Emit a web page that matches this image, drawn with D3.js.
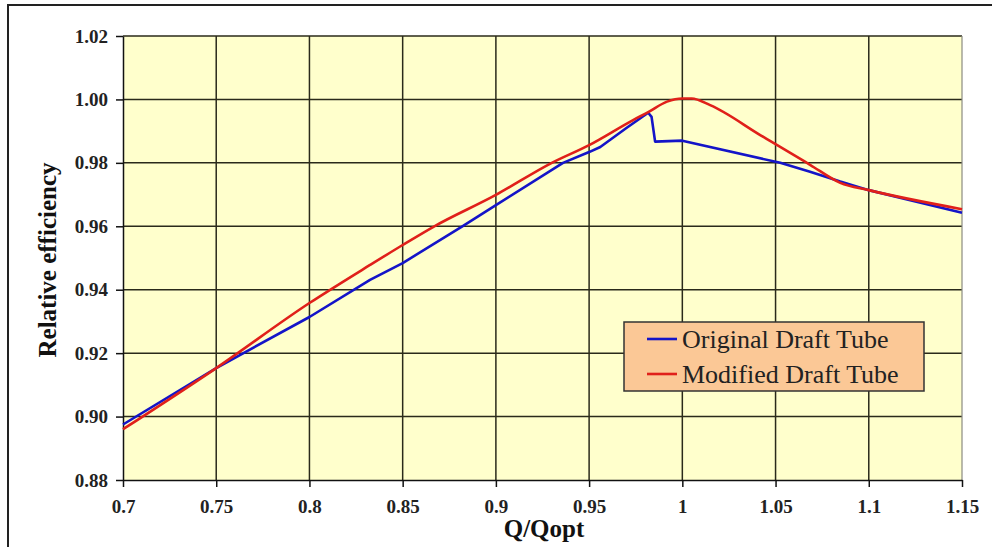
<!DOCTYPE html>
<html>
<head>
<meta charset="utf-8">
<script src="https://cdn.jsdelivr.net/npm/d3@7"></script>
<style>
  body { margin: 0; background: #fff; }
  svg { display: block; }
  text { font-family: "Liberation Serif", "Times New Roman", serif; }
</style>
</head>
<body>
<div id="chart"></div>
<script>
// data
var xTicks = [0.7, 0.75, 0.8, 0.85, 0.9, 0.95, 1.0, 1.05, 1.1, 1.15];
var xTickLabels = ["0.7", "0.75", "0.8", "0.85", "0.9", "0.95", "1", "1.05", "1.1", "1.15"];
var yTicks = [0.88, 0.90, 0.92, 0.94, 0.96, 0.98, 1.00, 1.02];
var yTickLabels = ["0.88", "0.90", "0.92", "0.94", "0.96", "0.98", "1.00", "1.02"];
var seriesNames = ["Original Draft Tube", "Modified Draft Tube"];

var origQ   = [0.7, 0.75, 0.8, 0.8325, 0.85, 0.882, 0.9, 0.936, 0.95, 0.956, 0.97, 0.9817, 0.9835, 0.9854, 1.0, 1.0525, 1.0685, 1.0847, 1.1, 1.15];
var origEff = [0.8975, 0.9153, 0.9314, 0.9431, 0.9484, 0.960, 0.9667, 0.980, 0.9834, 0.985, 0.991, 0.9958, 0.9945, 0.9867, 0.987, 0.980, 0.9772, 0.9741, 0.9714, 0.9643];

var modQ   = [0.7, 0.75, 0.8, 0.8325, 0.85, 0.867, 0.9, 0.930, 0.95, 0.9736, 0.9817, 0.9918, 1.0, 1.005, 1.0149, 1.042, 1.05, 1.0685, 1.0847, 1.1, 1.15];
var modEff = [0.8960, 0.9153, 0.9358, 0.9478, 0.9541, 0.960, 0.9699, 0.980, 0.9856, 0.9935, 0.9960, 0.9993, 1.0003, 1.0003, 0.9982, 0.9887, 0.9859, 0.9794, 0.9737, 0.9714, 0.9654];

var colors = ["#1414c8", "#e0201a"];

var width = 992, height = 547;
var plotL = 123, plotR = 962, plotT = 36, plotB = 480;

var svg = d3.select("#chart").append("svg")
    .attr("width", width)
    .attr("height", height);

// outer frame
svg.append("rect")
    .attr("x", 8).attr("y", 5)
    .attr("width", 1000).attr("height", 600)
    .attr("fill", "#fff")
    .attr("stroke", "#222").attr("stroke-width", 2);

var x = d3.scaleLinear().domain([0.7, 1.15]).range([plotL, plotR]);
var y = d3.scaleLinear().domain([0.88, 1.02]).range([plotB, plotT]);

// plot background
svg.append("rect")
    .attr("x", plotL).attr("y", plotT)
    .attr("width", plotR - plotL).attr("height", plotB - plotT)
    .attr("fill", "#ffffcc");

// grid
svg.append("g").selectAll("line").data(xTicks.slice(1, -1)).enter().append("line")
    .attr("x1", function(d){ return x(d); }).attr("x2", function(d){ return x(d); })
    .attr("y1", plotT).attr("y2", plotB)
    .attr("stroke", "#2a2a1a").attr("stroke-width", 1.5);
svg.append("g").selectAll("line").data(yTicks.slice(1)).enter().append("line")
    .attr("x1", plotL).attr("x2", plotR)
    .attr("y1", function(d){ return y(d); }).attr("y2", function(d){ return y(d); })
    .attr("stroke", "#2a2a1a").attr("stroke-width", 1.5);
// right edge
svg.append("line")
    .attr("x1", plotR).attr("x2", plotR).attr("y1", plotT).attr("y2", plotB)
    .attr("stroke", "#8a8a80").attr("stroke-width", 1.2);

// axes
var xAxis = d3.axisBottom(x).tickValues(xTicks)
    .tickFormat(function(d, i){ return xTickLabels[i]; })
    .tickSizeInner(7).tickSizeOuter(0).tickPadding(13);
var gx = svg.append("g").attr("transform", "translate(0," + plotB + ")").call(xAxis);
gx.selectAll("text").attr("font-size", 19).attr("font-weight", "bold").attr("fill", "#222")
    .style("font-family", "'Liberation Serif', serif");

var yAxis = d3.axisLeft(y).tickValues(yTicks)
    .tickFormat(function(d, i){ return yTickLabels[i]; })
    .tickSizeInner(7).tickSizeOuter(0).tickPadding(8);
var gy = svg.append("g").attr("transform", "translate(" + plotL + ",0)").call(yAxis);
gy.selectAll("text").attr("font-size", 19).attr("font-weight", "bold").attr("fill", "#222")
    .style("font-family", "'Liberation Serif', serif");

svg.selectAll(".domain").attr("stroke", "#111").attr("stroke-width", 1.5);
svg.selectAll(".tick line").attr("stroke", "#111").attr("stroke-width", 1.5);

// lines
var lineSharp = d3.line()
    .x(function(d){ return x(d[0]); })
    .y(function(d){ return y(d[1]); });
var lineSmooth = d3.line()
    .curve(d3.curveMonotoneX)
    .x(function(d){ return x(d[0]); })
    .y(function(d){ return y(d[1]); });

var series = [d3.zip(origQ, origEff), d3.zip(modQ, modEff)];
svg.append("g").selectAll("path").data(series).enter().append("path")
    .attr("d", function(d, i){ return i == 0 ? lineSharp(d) : lineSmooth(d); })
    .attr("fill", "none")
    .attr("stroke", function(d, i){ return colors[i]; })
    .attr("stroke-width", 2.6)
    .attr("stroke-linejoin", "round");

// axis titles
svg.append("text")
    .attr("x", 544).attr("y", 537)
    .attr("text-anchor", "middle")
    .attr("font-size", 25).attr("font-weight", "bold").attr("fill", "#111")
    .text("Q/Qopt");

svg.append("text")
    .attr("transform", "translate(56,260) rotate(-90)")
    .attr("text-anchor", "middle")
    .attr("font-size", 25).attr("font-weight", "bold").attr("fill", "#111")
    .text("Relative efficiency");

// legend
var legend = svg.append("g").attr("transform", "translate(624,322)");
legend.append("rect")
    .attr("width", 300).attr("height", 69)
    .attr("fill", "#fbc896")
    .attr("stroke", "#333").attr("stroke-width", 1.5);
var items = legend.selectAll("g").data(seriesNames).enter().append("g")
    .attr("transform", function(d, i){ return "translate(0," + (i * 35) + ")"; });
items.append("line")
    .attr("x1", 23).attr("x2", 53).attr("y1", 17).attr("y2", 17)
    .attr("stroke", function(d, i){ return colors[i]; })
    .attr("stroke-width", 2.6);
items.append("text")
    .attr("x", 58).attr("y", 26)
    .attr("font-size", 26).attr("fill", "#222")
    .text(function(d){ return d; });
</script>
</body>
</html>
